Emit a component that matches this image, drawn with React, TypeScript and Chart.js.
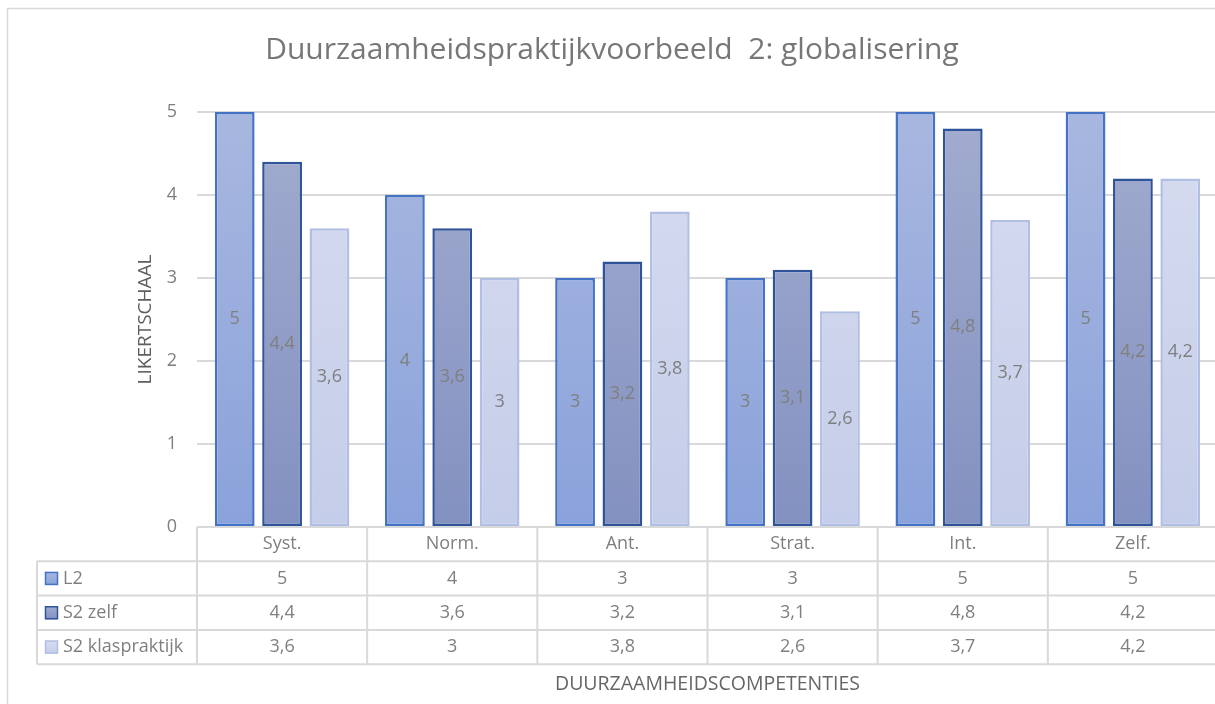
import React, { useEffect, useRef } from "react";
import { Chart, registerables } from "chart.js";

Chart.register(...registerables);

const chartTitle = "Duurzaamheidspraktijkvoorbeeld  2: globalisering";
const yAxisTitle = "LIKERTSCHAAL";
const xAxisTitle = "DUURZAAMHEIDSCOMPETENTIES";
const categories = ["Syst.", "Norm.", "Ant.", "Strat.", "Int.", "Zelf."];
const seriesNames = ["L2", "S2 zelf", "S2 klaspraktijk"];
const l2Values = [5, 4, 3, 3, 5, 5];
const s2ZelfValues = [4.4, 3.6, 3.2, 3.1, 4.8, 4.2];
const s2KlasValues = [3.6, 3, 3.8, 2.6, 3.7, 4.2];
const yTicks = [0, 1, 2, 3, 4, 5];

const FONT = "'Open Sans', 'Noto Sans', sans-serif";
const TEXT = "#7f7f7f";
const LINE = "#d9d9d9";

const fillTop = ["#a8b7df", "#a2accf", "#d7dcef"];
const fillBottom = ["#8aa2db", "#8391c1", "#c4cde9"];
const borders = ["#4472c4", "#30549a", "#b1bfe4"];

const fmt = (v: number) => String(v).replace(".", ",");

function gradientFor(i: number) {
  return (ctx: any) => {
    const chart = ctx.chart;
    const area = chart.chartArea;
    if (!area) return fillTop[i];
    const g = chart.ctx.createLinearGradient(0, area.top, 0, area.bottom);
    g.addColorStop(0, fillTop[i]);
    g.addColorStop(1, fillBottom[i]);
    return g;
  };
}

const decorPlugin = {
  id: "decor",
  beforeDraw(chart: any) {
    const ctx = chart.ctx;
    ctx.save();
    ctx.strokeStyle = LINE;
    ctx.lineWidth = 1.5;
    ctx.beginPath();
    ctx.moveTo(7.5, chart.height);
    ctx.lineTo(7.5, 8.5);
    ctx.lineTo(chart.width, 8.5);
    ctx.stroke();
    ctx.restore();
  },
  afterDatasetsDraw(chart: any) {
    const ctx = chart.ctx;
    ctx.save();
    ctx.font = `18px ${FONT}`;
    ctx.fillStyle = TEXT;
    ctx.textAlign = "center";
    ctx.textBaseline = "middle";
    chart.data.datasets.forEach((ds: any, di: number) => {
      const meta = chart.getDatasetMeta(di);
      meta.data.forEach((el: any, i: number) => {
        const y = (el.y + el.base) / 2;
        ctx.fillText(fmt(ds.data[i]), el.x, y);
      });
    });
    ctx.restore();
  },
  afterDraw(chart: any) {
    const ctx = chart.ctx;
    const area = chart.chartArea;
    const xs = chart.scales.x;
    const n = categories.length;
    const catW = (area.right - area.left) / n;
    const rowH = 34.3;
    const top = area.bottom;
    const tableLeft = 37;
    const rightEnd = chart.width;
    ctx.save();

    // title
    ctx.fillStyle = "#777777";
    ctx.font = `30px ${FONT}`;
    ctx.textAlign = "center";
    ctx.textBaseline = "middle";
    ctx.fillText(chartTitle, 612, 50);

    // y axis title
    ctx.save();
    ctx.translate(146, (area.top + area.bottom) / 2);
    ctx.rotate(-Math.PI / 2);
    ctx.fillStyle = "#5f5f5f";
    ctx.font = `19px ${FONT}`;
    ctx.fillText(yAxisTitle, 0, 0);
    ctx.restore();

    // table lines
    ctx.strokeStyle = LINE;
    ctx.lineWidth = 2;
    ctx.beginPath();
    ctx.moveTo(area.left, top);
    ctx.lineTo(rightEnd, top);
    for (let r = 1; r <= seriesNames.length + 1; r++) {
      const y = top + r * rowH;
      ctx.moveTo(tableLeft, y);
      ctx.lineTo(rightEnd, y);
    }
    ctx.moveTo(tableLeft, top + rowH);
    ctx.lineTo(tableLeft, top + (seriesNames.length + 1) * rowH);
    for (let c = 0; c <= n; c++) {
      const x = area.left + c * catW;
      ctx.moveTo(x, top);
      ctx.lineTo(x, top + (seriesNames.length + 1) * rowH);
    }
    ctx.stroke();

    // header
    ctx.fillStyle = TEXT;
    ctx.font = `18px ${FONT}`;
    ctx.textAlign = "center";
    categories.forEach((c, i) => {
      ctx.fillText(c, xs.getPixelForValue(i), top + rowH / 2);
    });

    // rows
    const allValues = [l2Values, s2ZelfValues, s2KlasValues];
    seriesNames.forEach((name, r) => {
      const yc = top + (r + 1) * rowH + rowH / 2;
      const g = ctx.createLinearGradient(0, yc - 6.5, 0, yc + 6.5);
      g.addColorStop(0, fillTop[r]);
      g.addColorStop(1, fillBottom[r]);
      ctx.fillStyle = g;
      ctx.fillRect(45, yc - 6.5, 13, 13);
      ctx.strokeStyle = borders[r];
      ctx.lineWidth = 1.5;
      ctx.strokeRect(45.5, yc - 6, 12, 12);
      ctx.fillStyle = TEXT;
      ctx.textAlign = "left";
      ctx.fillText(name, 63, yc);
      ctx.textAlign = "center";
      allValues[r].forEach((v, i) => {
        ctx.fillText(fmt(v), xs.getPixelForValue(i), yc);
      });
    });

    // x axis title
    ctx.fillStyle = "#666666";
    ctx.font = `19.5px ${FONT}`;
    ctx.fillText(xAxisTitle, (area.left + area.right) / 2, 684);

    ctx.restore();
  },
};

export default function App() {
  const ref = useRef<HTMLCanvasElement | null>(null);
  useEffect(() => {
    document.body.style.margin = "0";
    const canvas = ref.current;
    if (!canvas) return;
    const data = [l2Values, s2ZelfValues, s2KlasValues];
    const chart = new Chart(canvas, {
      type: "bar",
      data: {
        labels: categories,
        datasets: seriesNames.map((name, i) => ({
          label: name,
          data: data[i],
          backgroundColor: gradientFor(i),
          borderColor: borders[i],
          borderWidth: 2.5,
          borderSkipped: false,
          categoryPercentage: 0.835,
          barPercentage: 0.84,
        })),
      },
      options: {
        responsive: false,
        animation: false,
        devicePixelRatio: 1,
        layout: { padding: { left: 0, right: 22, top: 112, bottom: 177 } },
        plugins: {
          legend: { display: false },
          title: { display: false },
          tooltip: { enabled: false },
        },
        scales: {
          x: { display: false },
          y: {
            min: 0,
            max: 5,
            afterFit: (scale: any) => {
              scale.width = 197;
            },
            afterBuildTicks: (scale: any) => {
              scale.ticks = yTicks.map((v) => ({ value: v }));
            },
            border: { display: false },
            grid: { color: LINE, lineWidth: 2, drawTicks: false },
            ticks: {
              padding: 20,
              color: TEXT,
              font: { family: FONT, size: 18 },
            },
          },
        },
      },
      plugins: [decorPlugin],
    });
    return () => chart.destroy();
  }, []);
  return (
    <div style={{ width: 1215, height: 704, overflow: "hidden", position: "relative" }}>
      <canvas ref={ref} width={1240} height={704} style={{ display: "block" }} />
    </div>
  );
}
